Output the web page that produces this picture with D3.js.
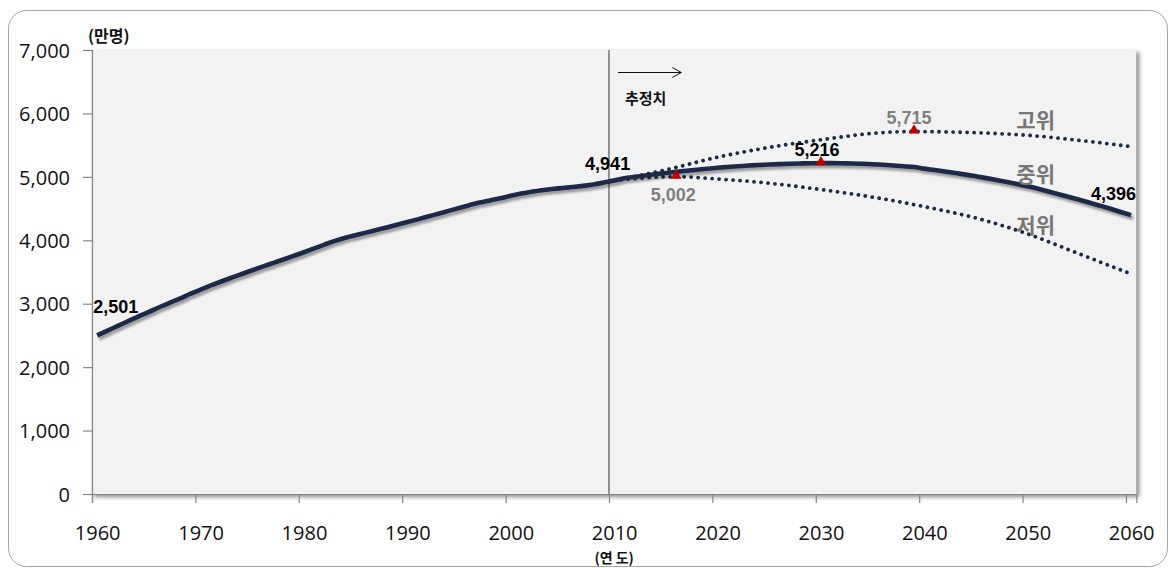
<!DOCTYPE html>
<html><head><meta charset="utf-8">
<script src="https://cdn.jsdelivr.net/npm/d3@7"></script>
<style>
html,body{margin:0;padding:0;background:#fff;}
svg{display:block;}
</style></head>
<body>
<svg id="chart" width="1172" height="568"></svg>
<script>
// ---- data (만명) ----
const midYears = d3.range(1960, 2061);
const midValues = [
 2501,2576,2650,2726,2801,2870,2944,3013,3080,3154,
 3224,3288,3350,3410,3469,3528,3585,3641,3697,3754,
 3812,3872,3933,3991,4041,4081,4121,4162,4203,4245,
 4287,4330,4375,4419,4464,4509,4553,4595,4629,4662,
 4701,4736,4764,4789,4808,4824,4840,4858,4880,4910,
 4941,4978,5000,5022,5042,5062,5080,5097,5113,5128,
 5143,5156,5168,5178,5187,5194,5201,5206,5211,5214,
 5216,5216,5214,5211,5206,5199,5190,5180,5168,5155,
 5130,5108,5085,5061,5035,5008,4980,4950,4919,4886,
 4852,4812,4770,4727,4683,4638,4592,4545,4497,4447,
 4396
];
const highYears  = [2010,2015,2020,2025,2030,2035,2039,2045,2050,2055,2060];
const highValues = [4941,5110,5310,5465,5585,5685,5715,5695,5655,5575,5478];
const lowYears   = [2010,2013,2016,2020,2025,2030,2035,2040,2045,2050,2055,2060];
const lowValues  = [4941,4985,5002,4965,4900,4800,4680,4530,4350,4100,3785,3470];

const yTicks = [0,1000,2000,3000,4000,5000,6000,7000];
const xTicks = [1960,1970,1980,1990,2000,2010,2020,2030,2040,2050,2060];

// labelled points
const valueLabels = [
  {year:1960, value:2501, text:"2,501", color:"#000", anchor:"start", dx:-4, dy:-22},
  {year:2010, value:4941, text:"4,941", color:"#000", anchor:"end",   dx:16, dy:-11},
  {year:2016, value:5002, text:"5,002", color:"#7f7f7f", anchor:"middle", dx:-3, dy:24},
  {year:2030, value:5216, text:"5,216", color:"#000", anchor:"middle", dx:-4, dy:-7},
  {year:2039, value:5715, text:"5,715", color:"#7f7f7f", anchor:"middle", dx:-5, dy:-8},
  {year:2060, value:4396, text:"4,396", color:"#000", anchor:"end",   dx:5, dy:-15}
];
const peakMarkers = [
  {year:2016, value:5002},
  {year:2030, value:5216},
  {year:2039, value:5715}
];
const scenarioLabels = [
  {text:"고위", year:2049.4, value:5770},
  {text:"중위", year:2049.4, value:4919},
  {text:"저위", year:2049.4, value:4115}
];

// ---- layout ----
const svg = d3.select("#chart");
const x = d3.scaleLinear().domain([1960, 2061]).range([92, 1136.3]);
const y = d3.scaleLinear().domain([0, 7000]).range([494, 50]);
const cx = yr => x(yr + 0.5);   // category centre
const half = x(1960.5) - x(1960);

const defs = svg.append("defs");
const f1 = defs.append("filter").attr("id","plotShadow").attr("x","-5%").attr("y","-5%").attr("width","110%").attr("height","110%");
f1.append("feGaussianBlur").attr("stdDeviation",2);
const f2 = defs.append("filter").attr("id","lineShadow").attr("x","-5%").attr("y","-20%").attr("width","110%").attr("height","140%");
f2.append("feGaussianBlur").attr("in","SourceAlpha").attr("stdDeviation",1.2).attr("result","b");
f2.append("feOffset").attr("in","b").attr("dx",1.5).attr("dy",2.5).attr("result","o");
f2.append("feComponentTransfer").attr("in","o").attr("result","o2")
  .append("feFuncA").attr("type","linear").attr("slope",0.35);
const fm = f2.append("feMerge");
fm.append("feMergeNode").attr("in","o2");
fm.append("feMergeNode").attr("in","SourceGraphic");

// outer frame
svg.append("rect").attr("x",8.5).attr("y",10.5).attr("width",1159).attr("height",556)
  .attr("rx",18).attr("fill","#fff").attr("stroke","#a6a6a6").attr("stroke-width",1);

// plot area
const px0 = x(1960), px1 = x(2061), py0 = y(7000), py1 = y(0);
svg.append("rect").attr("x",px0+2).attr("y",py0+2).attr("width",px1-px0+1).attr("height",py1-py0+1)
  .attr("fill","#8c8c8c").attr("filter","url(#plotShadow)");
svg.append("rect").attr("x",px0).attr("y",py0).attr("width",px1-px0).attr("height",py1-py0)
  .attr("fill","#f2f2f2");

// axes
const yAxis = svg.append("g").attr("transform",`translate(${px0},0)`)
  .call(d3.axisLeft(y).tickValues(yTicks).tickFormat(d3.format(",")).tickSize(9).tickPadding(13));
const xAxis = svg.append("g").attr("transform",`translate(0,${py1})`)
  .call(d3.axisBottom(x).tickValues(xTicks).tickFormat(d3.format("d")).tickSize(9).tickPadding(23));
[yAxis,xAxis].forEach(a=>{
  a.select(".domain").attr("stroke","#868686").attr("stroke-width",1.2);
  a.selectAll(".tick line").attr("stroke","#868686").attr("stroke-width",1.2);
  a.selectAll(".tick text").attr("fill","#111")
   .style("font-family","'Open Sans','Noto Sans',sans-serif").style("font-size","20px");
});
yAxis.selectAll(".tick text").attr("dy","0.36em");
xAxis.selectAll(".tick text").attr("dx", half);

// 2010 divider
svg.append("line").attr("x1",x(2010)).attr("x2",x(2010)).attr("y1",py0).attr("y2",py1)
  .attr("stroke","#333").attr("stroke-width",1);

// axis titles
svg.append("text").attr("x",88).attr("y",42).text("(만명)")
  .style("font-family","'Noto Sans CJK KR',sans-serif").style("font-weight","bold").style("font-size","16px").attr("fill","#111");
svg.append("text").attr("x",cx(2010)).attr("y",563).attr("text-anchor","middle").text("(연 도)")
  .style("font-family","'Noto Sans CJK KR',sans-serif").style("font-weight","bold").style("font-size","14px").attr("fill","#111");

// arrow + 추정치
const ay = 72.5;
svg.append("line").attr("x1",x(2010)+9).attr("x2",x(2017)).attr("y1",ay).attr("y2",ay).attr("stroke","#111").attr("stroke-width",1);
svg.append("path").attr("d",`M${x(2017)-9},${ay-5} L${x(2017)},${ay} L${x(2017)-9},${ay+5}`)
  .attr("fill","none").attr("stroke","#111").attr("stroke-width",1);
svg.append("text").attr("x",x(2010)+16).attr("y",104).text("추정치")
  .style("font-family","'Noto Sans CJK KR',sans-serif").style("font-weight","bold").style("font-size","15px").attr("fill","#111");

// lines
const navy = "#1b2a47";
const midData = midYears.map((yr,i)=>({year:yr, value:midValues[i]}));
const highData = highYears.map((yr,i)=>({year:yr, value:highValues[i]}));
const lowData = lowYears.map((yr,i)=>({year:yr, value:lowValues[i]}));
const line = d3.line().x(d=>cx(d.year)).y(d=>y(d.value)).curve(d3.curveMonotoneX);

[highData, lowData].forEach(data=>{
  svg.append("path").datum(data).attr("d",line).attr("fill","none")
    .attr("stroke",navy).attr("stroke-width",3.8).attr("stroke-linecap","round")
    .attr("stroke-dasharray","0.01 7");
});
svg.append("path").datum(midData).attr("d",line).attr("fill","none")
  .attr("stroke",navy).attr("stroke-width",4.6).attr("stroke-linejoin","round")
  .attr("filter","url(#lineShadow)");

// markers
svg.selectAll(".peak").data(peakMarkers).enter().append("path")
  .attr("class","peak")
  .attr("d",d3.symbol().type(d3.symbolTriangle).size(50))
  .attr("transform",d=>`translate(${cx(d.year)},${y(d.value)-1})`)
  .attr("fill","#c00000");

// value labels
svg.selectAll(".vl").data(valueLabels).enter().append("text")
  .attr("x",d=>cx(d.year)+d.dx).attr("y",d=>y(d.value)+d.dy)
  .attr("text-anchor",d=>d.anchor).attr("fill",d=>d.color)
  .style("font-family","'Liberation Sans',Arial,sans-serif").style("font-weight","bold").style("font-size","18px")
  .text(d=>d.text);

// scenario labels
svg.selectAll(".sl").data(scenarioLabels).enter().append("text")
  .attr("x",d=>x(d.year)).attr("y",d=>y(d.value))
  .attr("fill","#777")
  .style("font-family","'Noto Sans CJK KR',sans-serif").style("font-weight","bold").style("font-size","21px")
  .text(d=>d.text);
</script>
</body></html>
